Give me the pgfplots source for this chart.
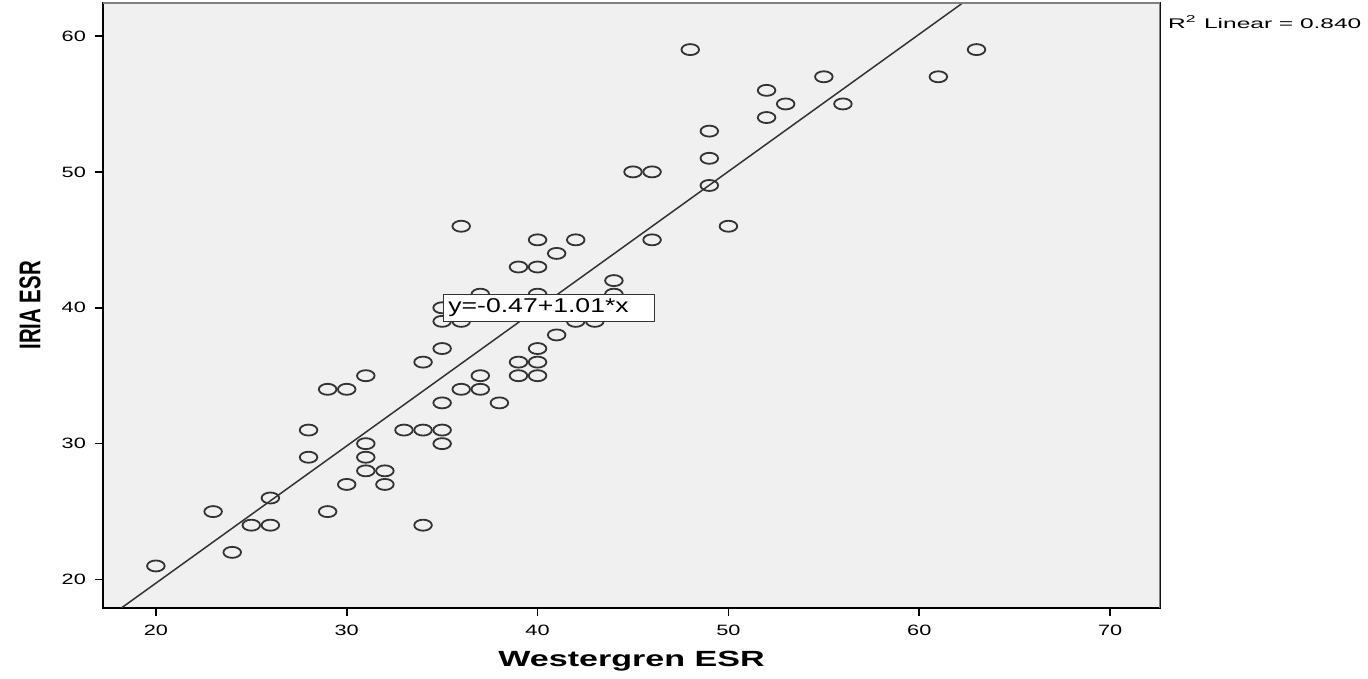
\documentclass[border=0pt]{standalone}
\usepackage{pgfplots}
\pgfplotsset{compat=1.18}
\usepackage{fontspec}
\setmainfont{Liberation Sans}
\definecolor{bgc}{HTML}{F0F0F0}
\definecolor{mk}{HTML}{333333}
\begin{document}
\begin{tikzpicture}
\begin{axis}[
  name=ax,
  scale only axis,
  width=529pt, height=302.5pt,
  xmin=17.225, xmax=72.62, ymin=17.94, ymax=62.43,
  xtick={20,30,...,70}, ytick={20,30,...,60},
  tick align=outside, tick pos=left,
  major tick length=4pt,
  tick style={black, line width=0.8pt},
  axis line style={black, line width=1pt},
  axis background/.style={fill=bgc},
  /pgf/number format/assume math mode=true,
  ticklabel style={font=\fontsize{7.5}{9}\selectfont},
  xticklabel={\scalebox{1.45}[1]{\pgfmathprintnumber{\tick}}},
  yticklabel={\scalebox{1.45}[1]{\pgfmathprintnumber{\tick}}},
  xticklabel style={yshift=-1pt},
  yticklabel style={xshift=-1pt},
  xlabel={\scalebox{1.55}[1]{\textbf{Westergren ESR}}},
  ylabel={\scalebox{0.68}[1]{\textbf{IRIA ESR}}},
  every axis x label/.style={at={(axis description cs:0.5,0)}, yshift=-27pt, anchor=center, font=\fontsize{11}{13}\selectfont},
  every axis y label/.style={at={(axis description cs:0,0.5)}, xshift=-36.5pt, rotate=90, anchor=center, font=\fontsize{15}{17}\selectfont},
  clip=true,
]
\addplot[only marks, mark=o, mark size=2.75pt, mark options={xscale=1.6, line width=0.9pt, draw=mk}] coordinates {
(20,21) (23,25) (24,22) (25,24) (26,24) (26,26) (28,29) (28,31) (29,25) (29,34)
(30,27) (30,34) (31,28) (31,29) (31,30) (31,35) (32,27) (32,28) (33,31) (34,24)
(34,31) (34,36) (35,30) (35,31) (35,33) (35,37) (35,39) (35,40) (36,34) (36,39)
(36,46) (37,34) (37,35) (37,41) (38,33) (39,35) (39,36) (39,43) (40,35) (40,36)
(40,37) (40,41) (40,43) (40,45) (41,38) (41,44) (42,39) (42,45) (43,39) (44,41)
(44,42) (45,50) (46,45) (46,50) (48,59) (49,49) (49,51) (49,53) (50,46) (52,54)
(52,56) (53,55) (55,57) (56,55) (61,57) (63,59)
};
\addplot[mk, line width=0.75pt] coordinates {(17.225,16.93) (72.62,72.88)};
\coordinate (lbl) at (axis cs:35.03,40);
\draw[gray, line width=1.4pt] (rel axis cs:0,1) -- (rel axis cs:1,1) -- (rel axis cs:1,0);
\end{axis}
\node[anchor=west, draw=mk, line width=0.7pt, fill=white, inner xsep=2.5pt, inner ysep=0pt,
  text width=100.5pt, align=left, minimum height=13.5pt, font=\fontsize{10}{12}\selectfont]
  at (lbl) {\scalebox{1.33}[1]{y=-0.47+1.01*x}};
\node[anchor=west, font=\fontsize{7}{9}\selectfont] at ([shift={(0.5pt,-9.5pt)}]ax.north east) {\scalebox{1.75}[1]{R\textsuperscript{2} Linear = 0.840}};
\path[use as bounding box] ([shift={(-51.5pt,-34pt)}]ax.south west) rectangle ([shift={(103.5pt,1.5pt)}]ax.north east);
\end{tikzpicture}
\end{document}
